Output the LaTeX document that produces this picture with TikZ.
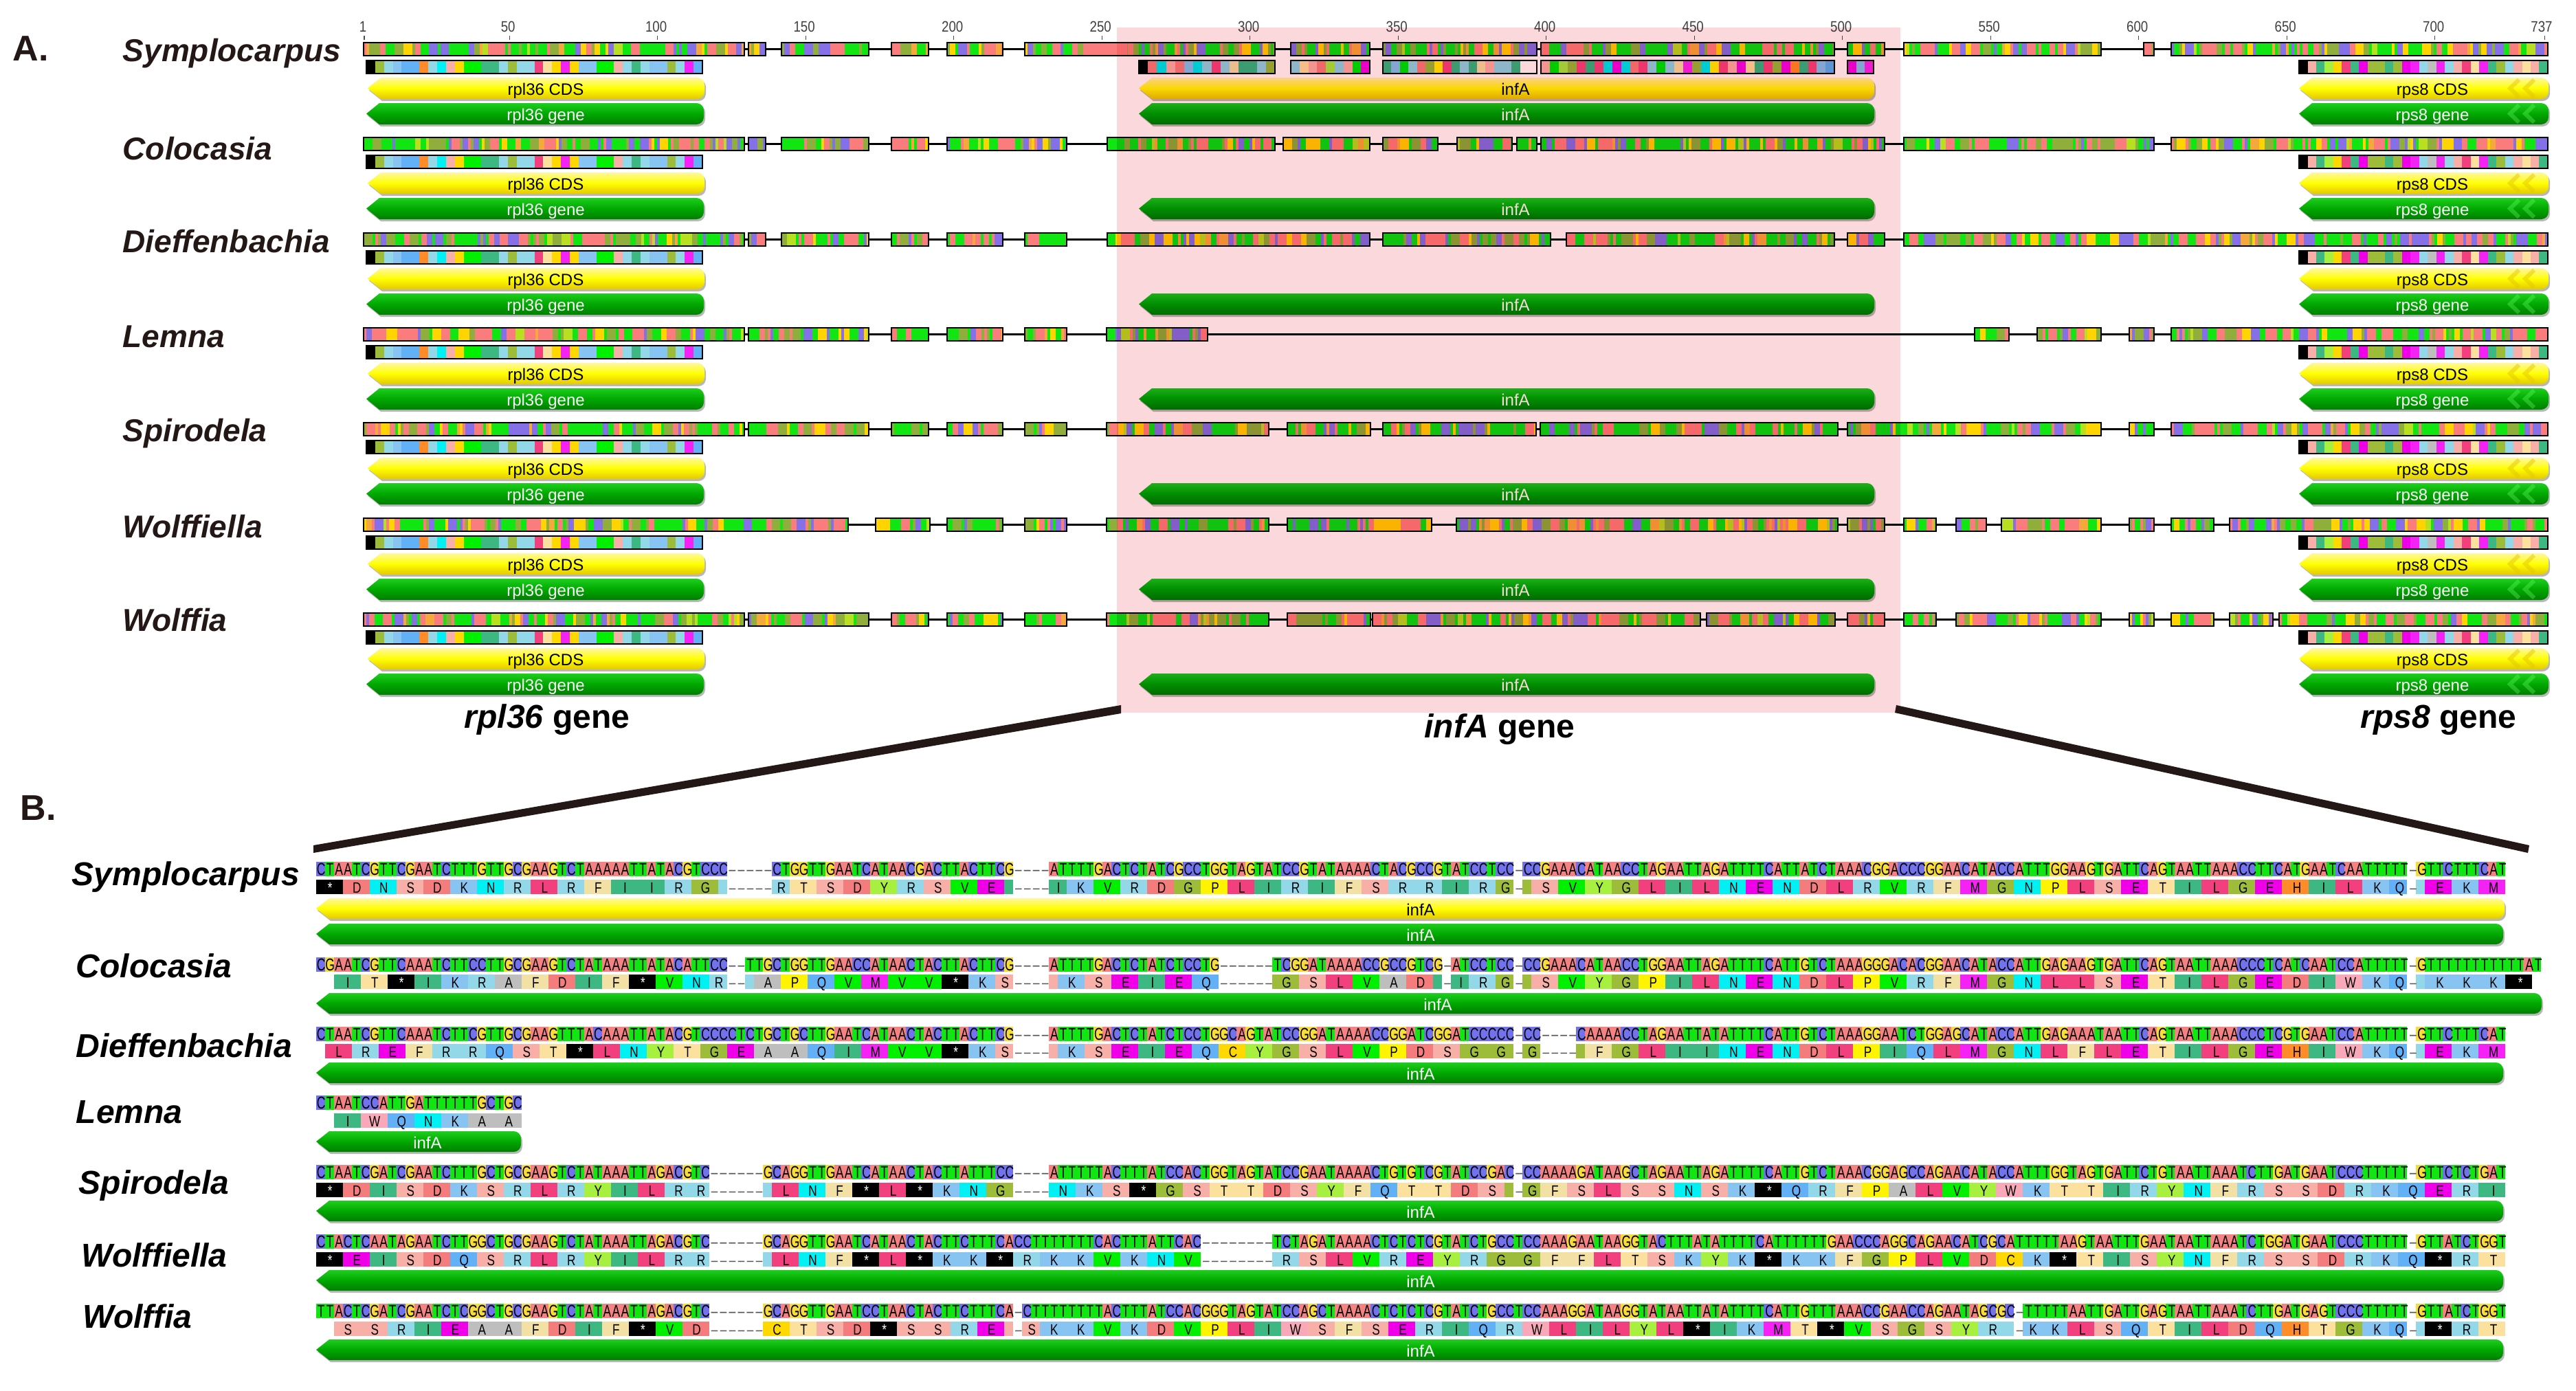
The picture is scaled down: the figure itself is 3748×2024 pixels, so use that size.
\documentclass[tikz,border=0pt]{standalone}
\usepackage{fontspec}
\setmainfont{Liberation Sans}
\newfontfamily\dnafont[FakeStretch=0.7]{Liberation Sans}
\newfontfamily\aafont[FakeStretch=0.78]{Liberation Sans}
\newfontfamily\rulerfont[FakeStretch=0.85]{Liberation Sans}
\def\fsHead{\fontsize{14.8pt}{17pt}\selectfont}
\def\fsBig{\fontsize{13.66pt}{16pt}\selectfont}
\def\fsSpA{\fontsize{13.09pt}{15pt}\selectfont}
\def\fsBar{\fontsize{6.83pt}{8pt}\selectfont}
\def\fsDNA{\fontsize{7.11pt}{8pt}\selectfont}
\def\fsAA{\fontsize{6.26pt}{8pt}\selectfont}
\def\fsRuler{\fontsize{6.26pt}{8pt}\selectfont}
% nucleotide colours
\definecolor{dnaA}{HTML}{F58282}\definecolor{dnaC}{HTML}{7272EE}
\definecolor{dnaG}{HTML}{F8DC3C}\definecolor{dnaT}{HTML}{12E612}
% amino-acid colours
\definecolor{aaStop}{HTML}{000000}\definecolor{aaA}{HTML}{BEBEBE}
\definecolor{aaC}{HTML}{FFD800}\definecolor{aaD}{HTML}{F57C7C}
\definecolor{aaE}{HTML}{F000E8}\definecolor{aaF}{HTML}{F2E0A4}
\definecolor{aaG}{HTML}{9CBC3A}\definecolor{aaH}{HTML}{FF8C28}
\definecolor{aaI}{HTML}{3EB882}\definecolor{aaK}{HTML}{88C4F2}
\definecolor{aaL}{HTML}{F2407E}\definecolor{aaM}{HTML}{F422F4}
\definecolor{aaN}{HTML}{00F0F4}\definecolor{aaP}{HTML}{FFF400}
\definecolor{aaQ}{HTML}{62B0F6}\definecolor{aaR}{HTML}{92D8E8}
\definecolor{aaS}{HTML}{F8AFA8}\definecolor{aaT}{HTML}{FBE09E}
\definecolor{aaV}{HTML}{00F000}\definecolor{aaW}{HTML}{F8A8B8}
\definecolor{aaY}{HTML}{A8F040}
% stripes
\definecolor{stOlive}{HTML}{8FAE3C}\definecolor{stOrange}{HTML}{F5A83C}
\definecolor{stLime}{HTML}{B8E020}\definecolor{stGold}{HTML}{FFD400}
\definecolor{stViolet}{HTML}{8670E8}\definecolor{stSalmon}{HTML}{FA7C7C}
\definecolor{stGreen}{HTML}{12E612}
% bars etc.
\definecolor{barGT}{HTML}{1ECE1E}\definecolor{barGM}{HTML}{00A800}\definecolor{barGB}{HTML}{007E00}
\definecolor{barYT}{HTML}{FFF7A0}\definecolor{barYM}{HTML}{FFFF00}\definecolor{barYB}{HTML}{E4C800}
\definecolor{barShadow}{HTML}{B8B8B8}\definecolor{pinkBand}{HTML}{FAD8DC}
\definecolor{wedgeBrown}{HTML}{231815}\definecolor{speciesInk}{HTML}{231815}
\definecolor{dashc}{HTML}{555555}
\tikzset{
  cdsfill/.style={top color=barYT,bottom color=barYB,middle color=barYM},
  genefill/.style={top color=barGT,bottom color=barGB,middle color=barGM},
  segborder/.style={draw=black,line width=0.02cm},
  trackline/.style={draw=black,line width=0.022cm},
  rulertick/.style={draw=black!70,line width=0.012cm},
  headlabel/.style={anchor=base west,inner sep=0pt,font=\fsHead\bfseries,text=speciesInk},
  spA/.style={anchor=base west,inner sep=0pt,font=\fsSpA\bfseries\itshape,text=speciesInk},
  spB/.style={anchor=base west,inner sep=0pt,font=\fsBig\bfseries\itshape,text=black},
  genelabel/.style={anchor=base,inner sep=0pt,font=\fsBig\bfseries,text=black},
  rulerlabel/.style={anchor=base,inner sep=0pt,font=\rulerfont\fsRuler,text=black!75},
  barlabel/.style={anchor=mid,inner sep=0pt,font=\fsBar},
  wedge/.style={fill=wedgeBrown},
}
\newcount\colc \newcount\tw \newdimen\cw \cw=0.13cm
\newcount\xp \newcount\xn \newcount\xend
% DNA tiles and text
\def\dnaTiles#1{\ifx#1\relax\else\ifx#1-\else\fill[fill=dna#1] (\xo+\the\colc*13,\yo) rectangle +(13.3,\hh);\fi\advance\colc by1 \expandafter\dnaTiles\fi}
\def\dnaText#1{\ifx#1\relax\else\ifx#1-\hbox to\cw{\hss\textcolor{dashc}{–}\hss}\else\hbox to\cw{\hss#1\hss}\fi\expandafter\dnaText\fi}
% amino-acid tiles and text
\def\aaSmall#1{\fill[fill=#1] (\xo+\the\colc*13,\yo) rectangle +(13.3,\hh);\advance\colc by1 }
\def\aaBig#1{\fill[fill=#1] (\xo+\the\colc*13,\yo) rectangle +(\the\tw*13+.3,\hh);\advance\colc by\tw \tw=3 }
\def\aaOne#1{\ifx#1/\tw=2 \else\ifx#1.\advance\colc by1 \else\ifx#1-\advance\colc by1 \else
 \ifx#1+\aaSmall{aaR}\else\ifx#1=\aaSmall{aaI}\else\ifx#1:\aaSmall{aaG}\else\ifx#1;\aaSmall{aaS}\else
 \ifx#1*\aaBig{aaStop}\else\aaBig{aa#1}\fi\fi\fi\fi\fi\fi\fi\fi}
\def\aaTiles#1{\ifx#1\relax\else\aaOne#1\expandafter\aaTiles\fi}
\def\aaTxtOne#1{\ifx#1/\tw=2 \else\ifx#1.\kern\cw\else\ifx#1-\hbox to\cw{\hss\textcolor{dashc}{–}\hss}\else
 \ifx#1+\kern\cw\else\ifx#1=\kern\cw\else\ifx#1:\kern\cw\else\ifx#1;\kern\cw\else
 \ifx#1*\hbox to\tw\cw{\hss\textcolor{white}{*}\hss}\tw=3 \else\hbox to\tw\cw{\hss#1\hss}\tw=3 \fi\fi\fi\fi\fi\fi\fi\fi}
\def\aaText#1{\ifx#1\relax\else\aaTxtOne#1\expandafter\aaText\fi}
% one alignment row: DNA top, amino top, DNA, amino
\newcommand\seqRow[4]{%
 \def\xo{460}\def\hh{21}%
 \def\yo{#1}\colc=0 \dnaTiles#3\relax
 \node[anchor=base west,inner sep=0pt] at (460,#1+19.5) {\dnafont\fsDNA\dnaText#3\relax};
 \def\yo{#2}\colc=0 \tw=3 \aaTiles#4\relax
 \tw=3 \node[anchor=base west,inner sep=0pt] at (460,#2+19) {\aafont\fsAA\tw=3 \aaText#4\relax};
}
% striped alignment segment in panel A
\newcommand\mySeg[3]{\xp=#1 \xend=#2
 \loop\ifnum\xp<\xend
  \pgfmathrandominteger{\rndw}{0}{9}%
  \pgfmathrandominteger{\rndc}{0}{99}%
  \xn=\xp \advance\xn by \ifnum\rndw<5 4 \else\ifnum\rndw<8 8 \else 13 \fi\fi
  \ifnum\xn>\xend \xn=\xend \fi
  \ifnum\rndc<30 \def\stripeCol{stGreen}\else\ifnum\rndc<52 \def\stripeCol{stSalmon}\else
  \ifnum\rndc<66 \def\stripeCol{stViolet}\else\ifnum\rndc<76 \def\stripeCol{stGold}\else
  \ifnum\rndc<92 \def\stripeCol{stOlive}\else\ifnum\rndc<96 \def\stripeCol{stOrange}\else\def\stripeCol{stLime}\fi\fi\fi\fi\fi\fi
  \fill[fill=\stripeCol] (\the\xp,#3) rectangle (\the\xn+.3,#3+19);
  \xp=\xn
 \repeat
 \draw[segborder] (#1,#3) rectangle (#2,#3+19);}
% translated segment in panel A
\def\stripWalk#1{\ifx#1\relax\else\ifx#1*\def\stripC{aaStop}\else\def\stripC{aa#1}\fi\fill[fill=\stripC] (\xo+\the\colc*\stripw,\yo) rectangle +(\stripw+.3,\hh);\advance\colc by1 \expandafter\stripWalk\fi}
\newcommand\protSeg[5]{\def\xo{#1}\def\yo{#3}\def\hh{19}\def\stripw{#4}\colc=0 \stripWalk#5\relax
 \draw[segborder] (#1,#3) rectangle (#2,#3+19);}
% annotation arrow pointing left
\newcommand\geneArrow[5]{%
 \fill[barShadow] (#1+21,#3+3)[rounded corners=3] -- (#2+2,#3+3) -- (#2+2,#4+3)[sharp corners] -- (#1+21,#4+3) -- (#1+2,{(#3+#4)/2+3}) -- cycle;
 \path[#5] (#1+19,#3)[rounded corners=3] -- (#2,#3) -- (#2,#4)[sharp corners] -- (#1+19,#4) -- (#1,{(#3+#4)/2}) -- cycle;
}
\newcommand\chevrons[4]{\foreach \cx in {3665,3687}{\draw[line width=0.06cm,color=#3,opacity=#4] (\cx,#1+3) -- (\cx-13,{(#1+#2)/2}) -- (\cx,#2-3);}}
\newcommand\trackLine[1]{\draw[trackline] (529,#1+9.5) -- (3707,#1+9.5);}
\begin{document}
\begin{tikzpicture}[x=0.01cm,y=-0.01cm]
\useasboundingbox (0,0) rectangle (3748,2024);
\fill[white] (0,0) rectangle (3748,2024);
\pgfmathsetseed{4242}
% ---------- panel A ----------
\node[headlabel] (headA) at (18,88) {A.};
\node[headlabel] (headB) at (29,1193) {B.};
\node[spA] (a1) at (178,89) {Symplocarpus};
\node[spA] (a2) at (178,232) {Colocasia};
\node[spA] (a3) at (178,367) {Dieffenbachia};
\node[spA] (a4) at (178,505) {Lemna};
\node[spA] (a5) at (178,642) {Spirodela};
\node[spA] (a6) at (178,782) {Wolffiella};
\node[spA] (a7) at (178,918) {Wolffia};
% ruler
\foreach \n/\lab in {1/1,50/50,100/100,150/150,200/200,250/250,300/300,350/350,400/400,450/450,500/500,550/550,600/600,650/650,700/700,737/737}{
  \draw[rulertick] ({530+(\n-1)*4.31},52) -- ({530+(\n-1)*4.31},58);
}
\foreach \n in {1,50,100,150,200,250,300,350,400,450,500,550,600,650,700}{
  \node[rulerlabel] (r\n) at ({530+(\n-1)*4.31-2},47) {\n};
}
\node[rulerlabel] (r737) at (3698,47) {737};
% tracks
\trackLine{62}
\foreach \a/\b in {529/1083,1089/1114,1137/1264,1297/1351,1378/1459,1491/1855,1878/1993,2012/2236,2242/2669,2688/2742,2770/3057,3119/3134,3159/3707}{\mySeg{\a}{\b}{62}}
\fill[stSalmon] (1582,63) rectangle (1640,80);
\protSeg{1657}{1855}{88}{13.2}{*DNSDKNRLRFIIRG}
\protSeg{1878}{1993}{88}{12.8}{RTSDYRSVE}
\protSeg{2012}{2236}{88}{12.45}{IKVRDGPLIRIFSRRI}
\protSeg{2242}{2669}{88}{12.95}{SVYGLILNENDLRVRFMGNPLSETILGEHILKQ}
\protSeg{2688}{2726}{88}{12.67}{EKM}
\trackLine{200}
\foreach \a/\b in {529/1083,1089/1114,1137/1264,1297/1351,1378/1552,1611/1855,1867/1993,2012/2092,2120/2200,2207/2236,2242/2742,2770/3134,3159/3707}{\mySeg{\a}{\b}{200}}
\trackLine{339}
\foreach \a/\b in {529/1083,1089/1114,1137/1264,1297/1351,1378/1459,1491/1552,1611/1993,2012/2256,2279/2669,2688/2742,2770/3707}{\mySeg{\a}{\b}{339}}
\trackLine{477}
\foreach \a/\b in {529/1083,1089/1264,1297/1351,1378/1459,1491/1552,1610/1757,2873/2923,2964/3057,3098/3134,3159/3707}{\mySeg{\a}{\b}{477}}
\trackLine{615}
\foreach \a/\b in {529/1083,1089/1264,1297/1351,1378/1459,1491/1552,1610/1846,1873/1994,2012/2235,2241/2674,2688/3057,3098/3134,3159/3707}{\mySeg{\a}{\b}{615}}
\trackLine{754}
\foreach \a/\b in {529/1234,1274/1353,1378/1459,1491/1552,1610/1846,1873/2083,2119/2674,2688/2742,2770/2817,2846/2890,2912/3057,3098/3134,3159/3221,3244/3707}{\mySeg{\a}{\b}{754}}
\trackLine{892}
\foreach \a/\b in {529/1083,1089/1264,1297/1351,1378/1459,1491/1552,1610/1846,1873/1994,1997/2474,2483/2670,2688/2742,2770/2817,2846/3057,3098/3134,3159/3221,3244/3307,3316/3707}{\mySeg{\a}{\b}{892}}
% flanking genes and infA annotation in each row
\foreach \t in {62,200,339,477,615,754,892}{
  \pgfmathsetmacro\pt{\t+26}
  \protSeg{533}{1022}{\pt}{12.87}{*GRKQQHRNSCVVIIRGRRLTCMCKKVVSRIRKKGRMQ}
  \protSeg{3345}{3707}{\pt}{12.48}{*SIYCLIEGGIGEMRAMRSLTMIGRSTSI}
  \geneArrow{535}{1025}{\t+51}{\t+82}{cdsfill}
  \geneArrow{533}{1024}{\t+88}{\t+119}{genefill}
  \geneArrow{3345}{3708}{\t+51}{\t+82}{cdsfill}
  \geneArrow{3345}{3708}{\t+88}{\t+119}{genefill}
  \chevrons{\t+51}{\t+82}{barYB}{0.5}
  \chevrons{\t+88}{\t+119}{green!60!white}{0.35}
  \geneArrow{1657}{2727}{\t+88}{\t+119}{genefill}
  \node[barlabel,text=black] at (794,\t+67) {rpl36 CDS};
  \node[barlabel,text=white] at (794,\t+104) {rpl36 gene};
  \node[barlabel,text=black] at (3539,\t+67) {rps8 CDS};
  \node[barlabel,text=white] at (3539,\t+104) {rps8 gene};
  \node[barlabel,text=white] at (2205,\t+104) {infA};
}
\geneArrow{1657}{2727}{113}{144}{cdsfill}
\node[barlabel,text=black] (infaY) at (2205,129) {infA};
% highlighted band
\fill[fill=pinkBand,blend mode=multiply] (1625,40) rectangle (2765,1037);
\node[genelabel] (gRpl) at (796,1059) {\textit{rpl36} gene};
\node[genelabel] (gInf) at (2182,1073) {\textit{infA} gene};
\node[genelabel] (gRps) at (3548,1059) {\textit{rps8} gene};
% zoom wedges
\fill[wedge] (1631,1026) -- (1631,1038) -- (456,1241) -- (456,1230) -- cycle;
\fill[wedge] (2759,1026) -- (2757,1037) -- (3678,1241) -- (3680,1230) -- cycle;
% ---------- panel B ----------
\node[spB] (b1) at (104,1288) {Symplocarpus};
\node[spB] (b2) at (110,1422) {Colocasia};
\node[spB] (b3) at (110,1538) {Dieffenbachia};
\node[spB] (b4) at (110,1634) {Lemna};
\node[spB] (b5) at (114,1737) {Spirodela};
\node[spB] (b6) at (118,1843) {Wolffiella};
\node[spB] (b7) at (120,1932) {Wolffia};
\seqRow{1254}{1280}{CTAATCGTTCGAATCTTTGTTGCGAAGTCTAAAAATTATACGTCCC-----CTGGTTGAATCATAACGACTTACTTCG----ATTTTGACTCTATCGCCTGGTAGTATCCGTATAAAACTACGCCGTATCCTCC-CCGAAACATAACCTAGAATTAGATTTTCATTATCTAAACGGACCCGGAACATACCATTTGGAAGTGATTCAGTAATTAAACCTTCATGAATCAATTTTT-GTTCTTTCAT}{*DNSDKNRLRFIIRG+-----/RTSDYRSVE=----/IKVRDGPLIRIFSRRIR/G-:SVYGLILNENDLRVRFMGNPLSETILGEHILK/Q-+EKM}
\geneArrow{460}{3644}{1307}{1337}{cdsfill}
\node[barlabel,text=black] (bY) at (2067,1323) {infA};
\geneArrow{460}{3642}{1344}{1374}{genefill}
\node[barlabel,text=white] (bG1) at (2067,1360) {infA};
\seqRow{1393}{1418}{CGAATCGTTCAAATCTTCCTTGCGAAGTCTATAAATTATACATTCC--TTGCTGGTTGAACCATAACTACTTACTTCG----ATTTTGACTCTATCTCCTG------TCGGATAAAACCGCCGTCG-ATCCTCC-CCGAAACATAACCTGGAATTAGATTTTCATTGTCTAAAGGGACACGGAACATACCATTGAGAAGTGATTCAGTAATTAAACCCTCATCAATCCATTTTT-GTTTTTTTTTTTAT}{..IT*IKRAFDIF*VN/R--+APQVMVV*K/S----;KSEIEQ------GSLVAD=-/IR/G-:SVYGPILNENDLPVRFMGNLLSETILGEDIWK/Q-+KKK*}
\geneArrow{460}{3698}{1445}{1475}{genefill}
\node[barlabel,text=white] (bG2) at (2092,1461) {infA};
\seqRow{1494}{1519}{CTAATCGTTCAAATCTTCGTTGCGAAGTTTACAAATTATACGTCCCCTCTGCTGCTTGAATCATAACTACTTACTTCG----ATTTTGACTCTATCTCCTGGCAGTATCCGGATAAAACCGGATCGGATCCCCC-CC----CAAAACCTAGAATTATATTTTCATTGTCTAAAGGAATCTGGAGCATACCATTGAGAAATAATTCAGTAATTAAACCCTCGTGAATCCATTTTT-GTTCTTTCAT}{.LREFRRQST*LNYTGEAAQIMVV*K/S----;KSEIEQCYGSLVPDSGG-/G----:FGLIINENDLPIQLMGNLFLETILGEHIWK/Q-+EKM}
\geneArrow{460}{3642}{1546}{1576}{genefill}
\node[barlabel,text=white] (bG3) at (2067,1562) {infA};
\seqRow{1594}{1620}{CTAATCCATTGATTTTTTGCTGC}{..IWQNKAA}
\geneArrow{460}{758}{1646}{1676}{genefill}
\node[barlabel,text=white] (bG4) at (622,1662) {infA};
\seqRow{1695}{1721}{CTAATCGATCGAATCTTTGCTGCGAAGTCTATAAATTAGACGTC------GCAGGTTGAATCATAACTACTTATTTCC----ATTTTTACTTTATCCACTGGTAGTATCCGAATAAAACTGTGTCGTATCCGAC-CCAAAAGATAAGCTAGAATTAGATTTTCATTGTCTAAACGGAGCCAGAACATACCATTTGGTAGTGATTCTGTAATTAAATCTTGATGAATCCCTTTTT-GTTCTCTGAT}{*DISDKSRLRYILR/R------+LNF*L*KNG----NKS*GSTTDSYFQTTDS:-/GFSLSSNSK*QRFPALVYWKTTIRYNFRSSDRKQERI}
\geneArrow{460}{3642}{1747}{1777}{genefill}
\node[barlabel,text=white] (bG5) at (2067,1763) {infA};
\seqRow{1796}{1822}{CTACTCAATAGAATCTTGGCTGCGAAGTCTATAAATTAGACGTC------GCAGGTTGAATCATAACTACTTCTTTCACCTTTTTTTCACTTTATTCAC--------TCTAGATAAAACTCTCTCGTATCTGCCTCCAAAGAATAAGGTACTTTATATTTTCATTTTTTGAACCCAGGCAGAACATCGCATTTTTAAGTAATTTGAATAATTAAATCTGGATGAATCCCTTTTT-GTTATCTGGT}{*EISDQSRLRYILR/R------+LNF*L*KK*RKKVKNV--------RSLVREYRGGFFLTSKYK*KKFGPLVDCK*TISYNFRSSDRKQ*RT}
\geneArrow{460}{3642}{1848}{1878}{genefill}
\node[barlabel,text=white] (bG6) at (2067,1864) {infA};
\seqRow{1897}{1923}{TTACTCGATCGAATCTCGGCTGCGAAGTCTATAAATTAGACGTC------GCAGGTTGAATCCTAACTACTTCTTTCA-CTTTTTTTTACTTTATCCACGGGTAGTATCCAGCTAAAACTCTCTCGTATCTGCCTCCAAAGGATAAGGTATAATTATATTTTCATTGTTTAAACCGAACCAGAATAGCGC-TTTTTAATTGATTGAGTAATTAAATCTTGATGAGTCCCTTTTT-GTTATCTGGT}{..SSRIEAAFDIF*VD------CTSD*SSRE;-/SKKVKDVPLIWSFSERIQRWLILYL*IKMT*VSGSYR+-/KKLSQTILDQHTGK/Q-+*RT}
\geneArrow{460}{3642}{1949}{1979}{genefill}
\node[barlabel,text=white] (bG7) at (2067,1965) {infA};
\end{tikzpicture}
\end{document}
